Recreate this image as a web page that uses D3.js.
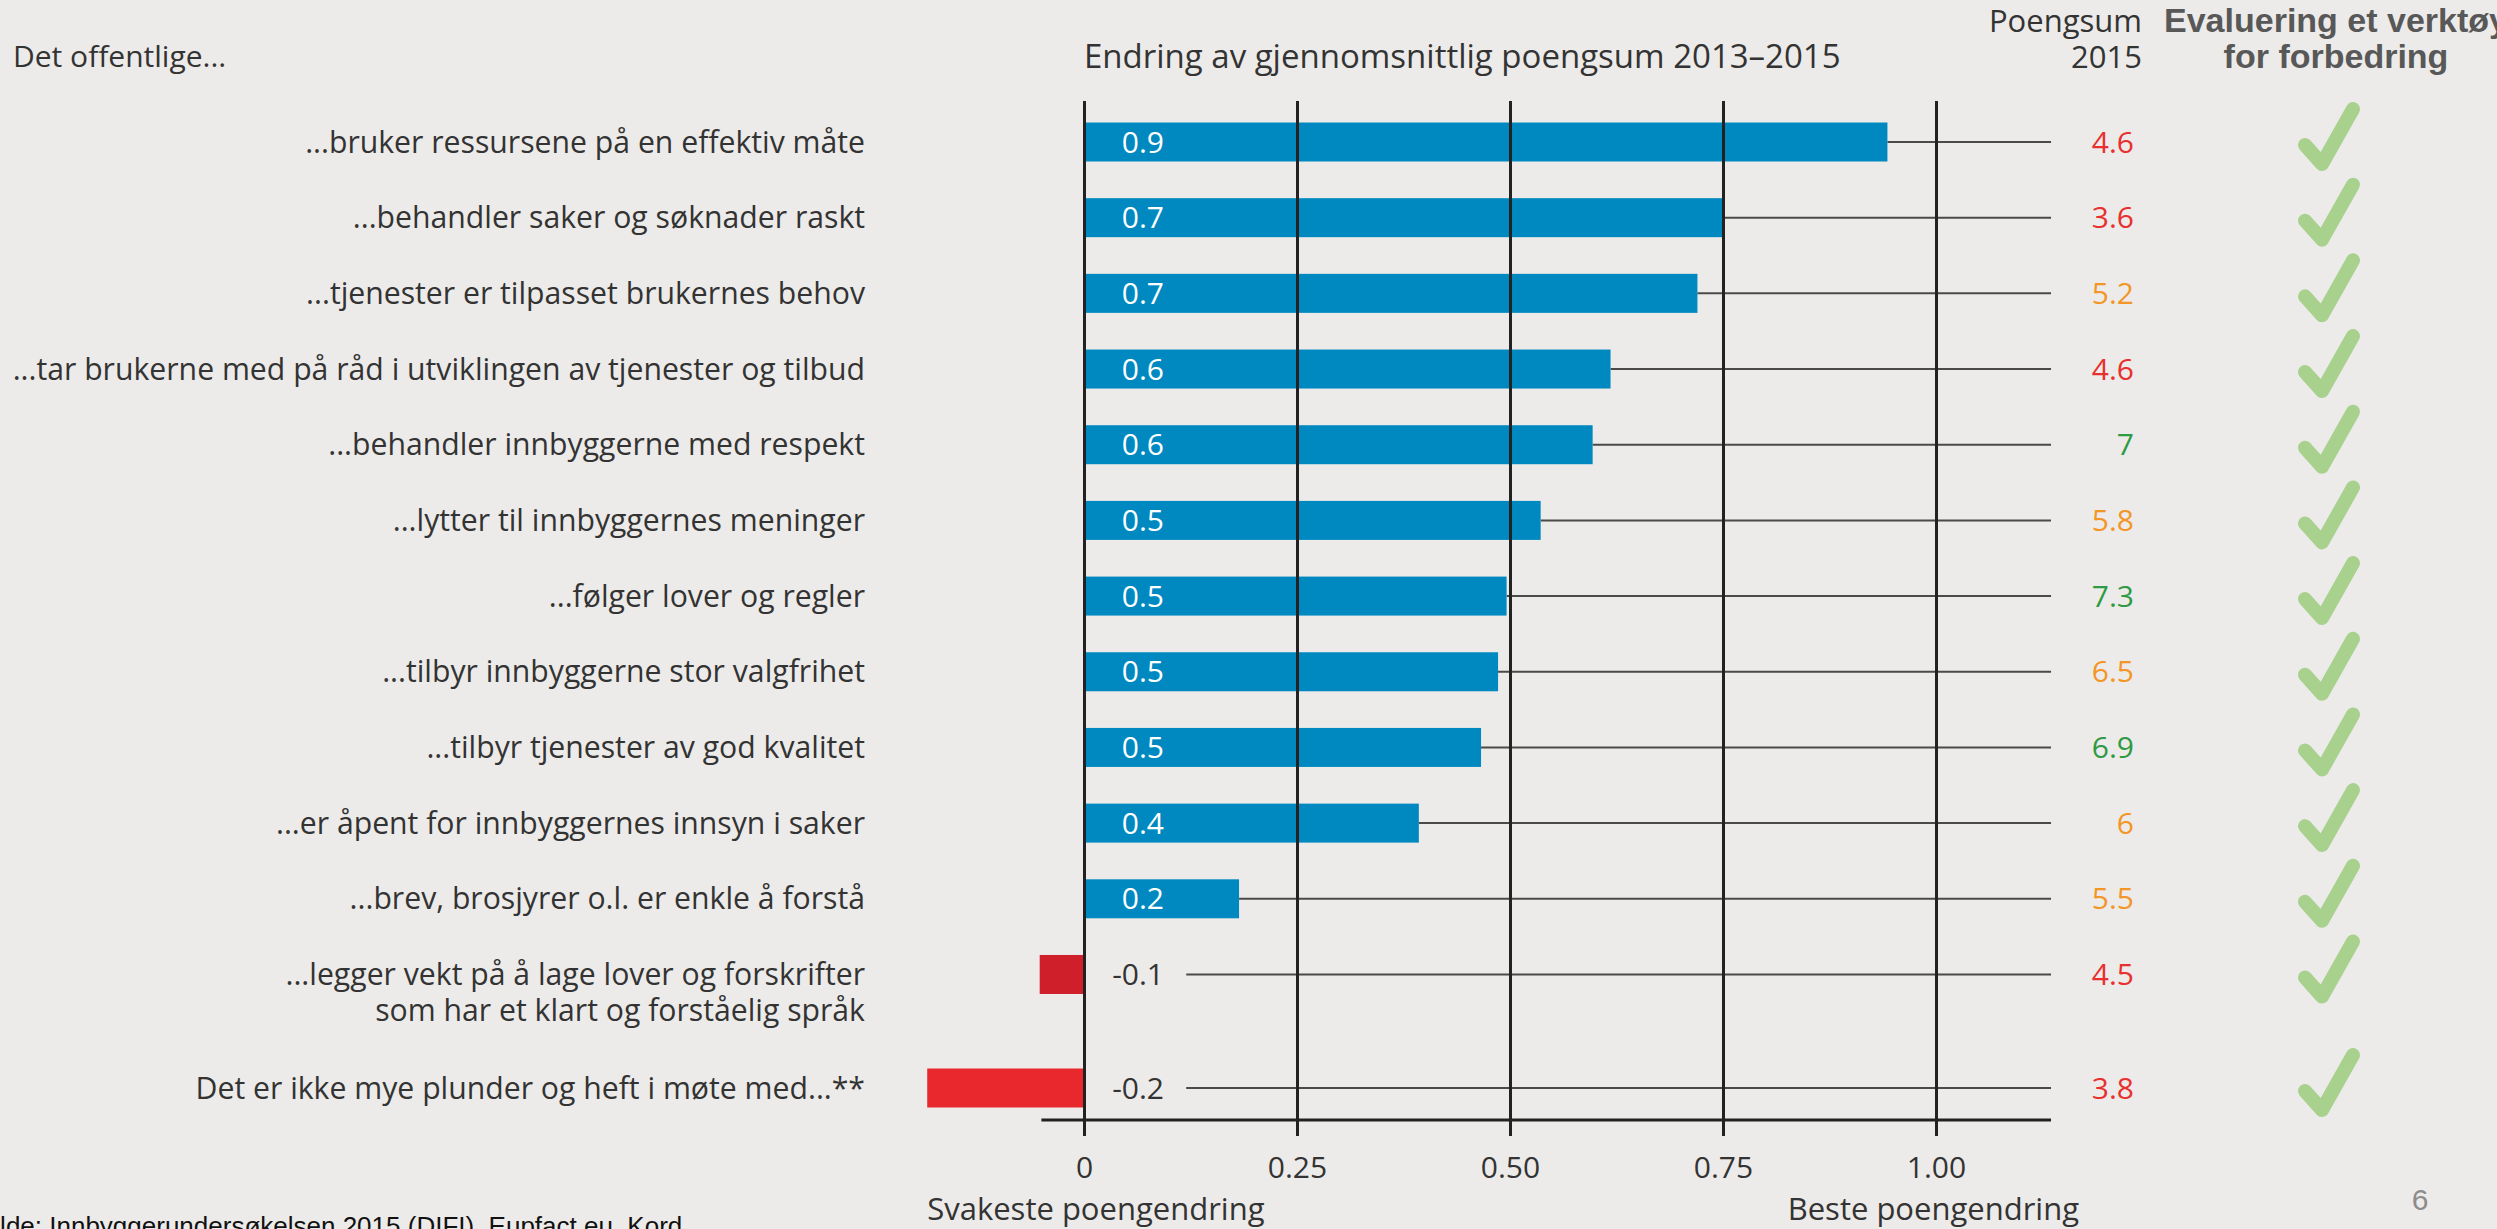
<!DOCTYPE html>
<html lang="no">
<head>
<meta charset="UTF-8">
<script src="https://d3js.org/d3.v7.min.js"></script>
<title>Endring av gjennomsnittlig poengsum</title>
<style>
	body { margin: 0; background: #ecebe9; overflow: hidden; }
	svg { display: block; }
	text { font-family: "Open Sans", sans-serif; fill: #333; }
	.bold { font-family: "Liberation Sans", Arial, sans-serif; font-weight: bold; fill: #585858; }
</style>
</head>
<body>
<script>
	// ---------- data ----------
	const categories = [
		"...bruker ressursene på en effektiv måte",
		"...behandler saker og søknader raskt",
		"...tjenester er tilpasset brukernes behov",
		"...tar brukerne med på råd i utviklingen av tjenester og tilbud",
		"...behandler innbyggerne med respekt",
		"...lytter til innbyggernes meninger",
		"...følger lover og regler",
		"...tilbyr innbyggerne stor valgfrihet",
		"...tilbyr tjenester av god kvalitet",
		"...er åpent for innbyggernes innsyn i saker",
		"...brev, brosjyrer o.l. er enkle å forstå",
		"...legger vekt på å lage lover og forskrifter|som har et klart og forståelig språk",
		"Det er ikke mye plunder og heft i møte med...**"
	];
	const change = [0.943, 0.749, 0.72, 0.618, 0.597, 0.536, 0.496, 0.486, 0.466, 0.393, 0.182, -0.052, -0.184];
	const changeLabels = ["0.9", "0.7", "0.7", "0.6", "0.6", "0.5", "0.5", "0.5", "0.5", "0.4", "0.2", "-0.1", "-0.2"];
	const score2015 = [4.6, 3.6, 5.2, 4.6, 7, 5.8, 7.3, 6.5, 6.9, 6, 5.5, 4.5, 3.8];
	const tickValues = [0, 0.25, 0.5, 0.75, 1.0];
	const tickLabels = ["0", "0.25", "0.50", "0.75", "1.00"];

	const W = 2497, H = 1229;
	const svg = d3.select("body").append("svg").attr("width", W).attr("height", H);

	// ---------- scales ----------
	const x = d3.scaleLinear().domain([0, 1]).range([1084, 1936]);

	// a two-line label pushes the following rows half a row down
	let extra = 0;
	const slots = categories.map((c, i) => {
		const s = extra + i;
		extra += (c.split("|").length - 1) * 0.5;
		return s;
	});
	const y = d3.scaleLinear().domain([0, 12.5]).range([142, 1088]);
	const barH = 39;

	const barColor = d3.scaleThreshold().domain([-0.1, 0]).range(["#e8282d", "#cf1f2a", "#0089c0"]);
	const scoreColor = d3.scaleThreshold().domain([5, 6.7]).range(["#e8302e", "#f39627", "#2e9a44"]);

	const rows = categories.map((c, i) => ({
		label: c, value: change[i], text: changeLabels[i], score: score2015[i], cy: y(slots[i])
	}));

	const axisY = 1120, gridTop = 101;
	const lineEnd = x(1.135);

	// ---------- connector lines ----------
	svg.append("g").selectAll("line")
		.data(rows).join("line")
		.attr("x1", d => d.value > 0 ? x(d.value) : x(0.12))
		.attr("x2", lineEnd)
		.attr("y1", d => d.cy).attr("y2", d => d.cy)
		.attr("stroke", "#4a4a4a").attr("stroke-width", 2);

	// ---------- bars ----------
	svg.append("g").selectAll("rect")
		.data(rows).join("rect")
		.attr("x", d => x(Math.min(0, d.value)))
		.attr("width", d => Math.abs(x(d.value) - x(0)))
		.attr("y", d => d.cy - barH / 2)
		.attr("height", barH)
		.attr("fill", d => barColor(d.value));

	// ---------- axis + grid (on top of the bars) ----------
	const axis = d3.axisBottom(x)
		.tickValues(tickValues)
		.tickFormat((d, i) => tickLabels[i])
		.tickSize(16);
	const gx = svg.append("g").attr("transform", `translate(0,${axisY})`).call(axis);
	gx.select(".domain").remove();
	gx.selectAll(".tick line")
		.attr("y1", gridTop - axisY)
		.attr("stroke", "#222").attr("stroke-width", 3);
	gx.selectAll(".tick text")
		.attr("y", 58).attr("dy", null)
		.style("font-family", "'Open Sans', sans-serif")
		.style("font-size", "30px").attr("fill", "#333");
	gx.append("line")
		.attr("x1", x(-0.05)).attr("x2", lineEnd)
		.attr("stroke", "#222").attr("stroke-width", 3);

	// ---------- value labels ----------
	svg.append("g").selectAll("text")
		.data(rows).join("text")
		.attr("x", 1164).attr("y", d => d.cy).attr("dy", "0.35em")
		.attr("text-anchor", "end")
		.style("font-size", "30px")
		.style("fill", d => d.value > 0 ? "#fff" : "#333")
		.text(d => d.text);

	// ---------- category labels ----------
	const lab = svg.append("g").selectAll("text")
		.data(rows).join("text")
		.attr("x", 865).attr("y", d => d.cy)
		.attr("text-anchor", "end")
		.style("font-size", "30.2px");
	lab.selectAll("tspan")
		.data(d => d.label.split("|")).join("tspan")
		.attr("x", 865).attr("dy", (d, i) => i === 0 ? "0.35em" : "1.2em")
		.text(d => d);

	// ---------- 2015 scores ----------
	svg.append("g").selectAll("text")
		.data(rows).join("text")
		.attr("x", 2134).attr("y", d => d.cy).attr("dy", "0.35em")
		.attr("text-anchor", "end")
		.style("font-size", "30px")
		.style("fill", d => scoreColor(d.score))
		.text(d => d3.format("~g")(d.score));

	// ---------- check marks ----------
	svg.append("g").selectAll("path")
		.data(rows).join("path")
		.attr("transform", d => `translate(2330,${d.cy})`)
		.attr("d", "M-25,3 L-8,22 L23,-33")
		.attr("fill", "none").attr("stroke", "#a8d18d")
		.attr("stroke-width", 14)
		.attr("stroke-linecap", "round").attr("stroke-linejoin", "round");

	// ---------- headings ----------
	svg.append("text").attr("x", 13).attr("y", 67).style("font-size", "30px").text("Det offentlige...");
	svg.append("text").attr("x", 1084).attr("y", 68).style("font-size", "33px")
		.text("Endring av gjennomsnittlig poengsum 2013–2015");
	svg.append("text").attr("x", 2142).attr("y", 32).attr("text-anchor", "end").style("font-size", "31px").text("Poengsum");
	svg.append("text").attr("x", 2142).attr("y", 68).attr("text-anchor", "end").style("font-size", "31px").text("2015");
	svg.append("text").attr("class", "bold").attr("x", 2336).attr("y", 32).attr("text-anchor", "middle")
		.style("font-size", "34px").text("Evaluering et verktøy");
	svg.append("text").attr("class", "bold").attr("x", 2336).attr("y", 68).attr("text-anchor", "middle")
		.style("font-size", "34px").text("for forbedring");

	svg.append("text").attr("x", x(-0.184)).attr("y", 1220).style("font-size", "31px").text("Svakeste poengendring");
	svg.append("text").attr("x", 2079).attr("y", 1220).attr("text-anchor", "end").style("font-size", "31px").text("Beste poengendring");

	// ---------- footer ----------
	svg.append("text").attr("x", -23).attr("y", 1235)
		.style("font-family", "'Liberation Sans', Arial, sans-serif").style("font-size", "26px").style("fill", "#111")
		.text("Kilde: Innbyggerundersøkelsen 2015 (DIFI), Eupfact.eu, Kord");
	svg.append("text").attr("x", 2420).attr("y", 1210).attr("text-anchor", "middle")
		.style("font-family", "'Liberation Sans', Arial, sans-serif").style("font-size", "30px").style("fill", "#8c8c8c")
		.text("6");
</script>
</body>
</html>
